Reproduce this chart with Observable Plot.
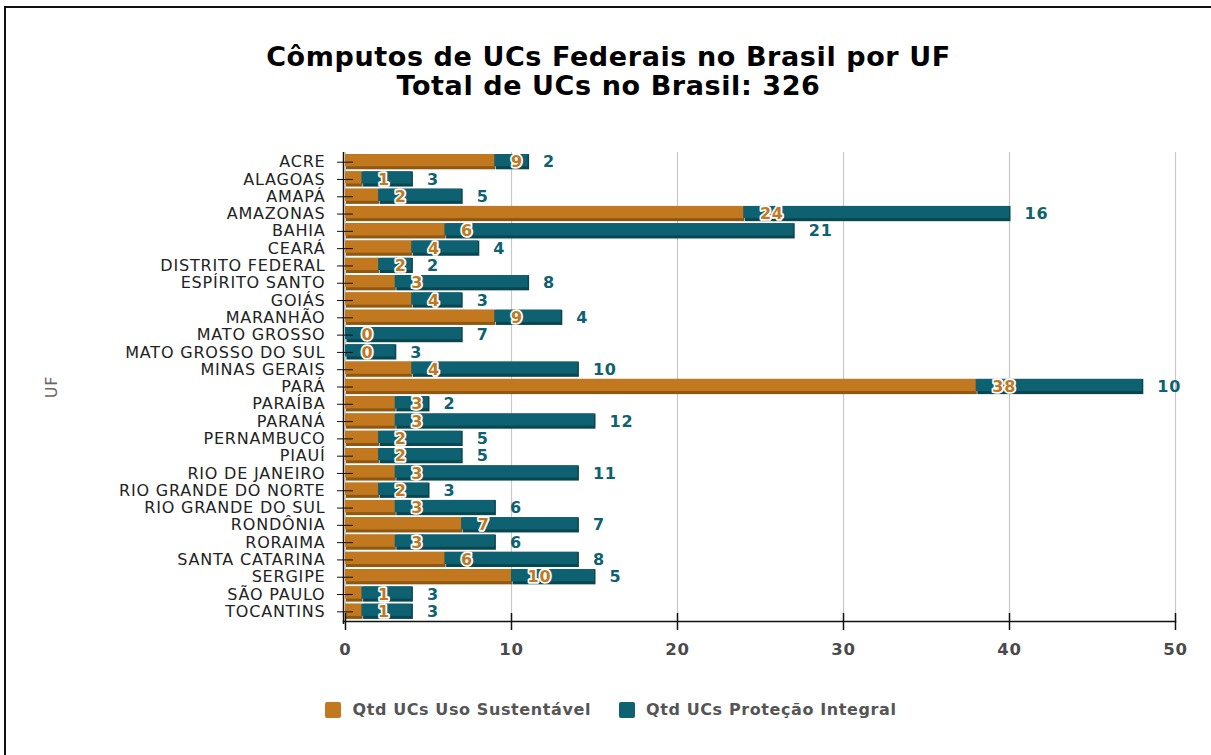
<!DOCTYPE html>
<html>
<head>
<meta charset="utf-8">
<script src="https://cdn.jsdelivr.net/npm/d3@7"></script>
<script src="https://cdn.jsdelivr.net/npm/@observablehq/plot@0.6"></script>
<style>
  html, body { margin: 0; padding: 0; background: #fff; }
  body { width: 1211px; height: 755px; position: relative; overflow: hidden; font-family: "DejaVu Sans", Verdana, sans-serif; }
  #frame { position: absolute; left: 4px; top: 6px; width: 1220px; height: 760px; border-top: 2px solid #111; border-left: 2px solid #111; }
  #title { position: absolute; left: 0; top: 42px; width: 1217px; text-align: center; font-weight: bold; font-size: 27px; letter-spacing: 0.6px; line-height: 29px; color: #000; }
  #chart { position: absolute; left: 0; top: 140px; }
  #chart svg text { letter-spacing: 0.8px; }
  #legend { position: absolute; left: 0; top: 700px; width: 1222px; display: flex; justify-content: center; align-items: center; font-weight: bold; font-size: 16px; letter-spacing: 0.6px; color: #555; }
  .sw { width: 16px; height: 16px; border-radius: 2px; display: inline-block; margin-right: 11px; }
  .item { display: flex; align-items: center; margin: 0 14px; }
</style>
</head>
<body>
<div id="frame"></div>
<div id="title">Cômputos de UCs Federais no Brasil por UF<br>Total de UCs no Brasil: 326</div>
<div id="chart"></div>
<div id="legend"></div>
<script>
const ufs = ["ACRE","ALAGOAS","AMAPÁ","AMAZONAS","BAHIA","CEARÁ","DISTRITO FEDERAL","ESPÍRITO SANTO","GOIÁS","MARANHÃO","MATO GROSSO","MATO GROSSO DO SUL","MINAS GERAIS","PARÁ","PARAÍBA","PARANÁ","PERNAMBUCO","PIAUÍ","RIO DE JANEIRO","RIO GRANDE DO NORTE","RIO GRANDE DO SUL","RONDÔNIA","RORAIMA","SANTA CATARINA","SERGIPE","SÃO PAULO","TOCANTINS"];
const usoSustentavel = [9,1,2,24,6,4,2,3,4,9,0,0,4,38,3,3,2,2,3,2,3,7,3,6,10,1,1];
const protecaoIntegral = [2,3,5,16,21,4,2,8,3,4,7,3,10,10,2,12,5,5,11,3,6,7,6,8,5,3,3];
const seriesNames = ["Qtd UCs Uso Sustentável", "Qtd UCs Proteção Integral"];
const seriesColors = ["#C1781E", "#0E6170"];
const seriesDark = ["#8E5712", "#084650"];
const xTicks = [0,10,20,30,40,50];

const rows = ufs.map((uf, i) => ({uf, sust: usoSustentavel[i], prot: protecaoIntegral[i], total: usoSustentavel[i] + protecaoIntegral[i]}));

const chart = Plot.plot({
  width: 1211,
  height: 540,
  marginLeft: 345,
  marginRight: 36,
  marginTop: 12,
  marginBottom: 59,
  style: {fontFamily: "DejaVu Sans, Verdana, sans-serif", fontSize: "16px", background: "transparent"},
  x: {domain: [0, 50], ticks: xTicks},
  y: {domain: ufs, padding: 0.12, round: false, label: null},
  marks: [
    Plot.gridX(xTicks, {stroke: "#c8c8c8", strokeOpacity: 1, strokeWidth: 1.2}),
    // shadow layers
    Plot.barX(rows, {y: "uf", x1: 0, x2: "sust", fill: seriesDark[0], dx: 1}),
    Plot.barX(rows, {y: "uf", x1: "sust", x2: "total", fill: seriesDark[1], dx: 1.5}),
    // main layers
    Plot.barX(rows, {y: "uf", x1: 0, x2: "sust", fill: seriesColors[0], insetBottom: 3}),
    Plot.barX(rows, {y: "uf", x1: "sust", x2: "total", fill: seriesColors[1], insetBottom: 3}),
    // labels
    Plot.text(rows, {y: "uf", x: "sust", text: d => String(d.sust), dx: 16, textAnchor: "start", fill: seriesColors[0], stroke: "white", strokeWidth: 3.5, fontWeight: "bold", fontSize: 16}),
    Plot.text(rows, {y: "uf", x: "total", text: d => String(d.prot), dx: 15, textAnchor: "start", fill: seriesColors[1], fontWeight: "bold", fontSize: 16}),
    // axes
    Plot.axisY({tickSize: 16, dx: 8, tickFormat: () => "", stroke: "#111", fill: "#666", label: "UF", labelAnchor: "center", labelOffset: 300}),
    Plot.axisY({tickSize: 0, tickPadding: 20, fill: "#222", fontSize: 16, label: null}),
    Plot.axisX(xTicks, {tickSize: 17, dy: -8, tickFormat: () => "", label: null, stroke: "#111", strokeWidth: 1.5}),
    Plot.axisX(xTicks, {tickSize: 0, tickPadding: 22, fill: "#4a4a4a", fontWeight: "bold", fontSize: 16.5, label: null}),
    Plot.ruleX([0], {stroke: "#111", strokeWidth: 1.5, dx: -2, insetTop: 0, insetBottom: -3}),
    Plot.frame({anchor: "bottom", stroke: "#111", strokeWidth: 1.5, insetLeft: -2})
  ]
});
document.getElementById("chart").appendChild(chart);

const legend = document.getElementById("legend");
seriesNames.forEach((name, i) => {
  const item = document.createElement("div");
  item.className = "item";
  const sw = document.createElement("span");
  sw.className = "sw";
  sw.style.background = seriesColors[i];
  const t = document.createElement("span");
  t.textContent = name;
  item.appendChild(sw);
  item.appendChild(t);
  legend.appendChild(item);
});
</script>
</body>
</html>
